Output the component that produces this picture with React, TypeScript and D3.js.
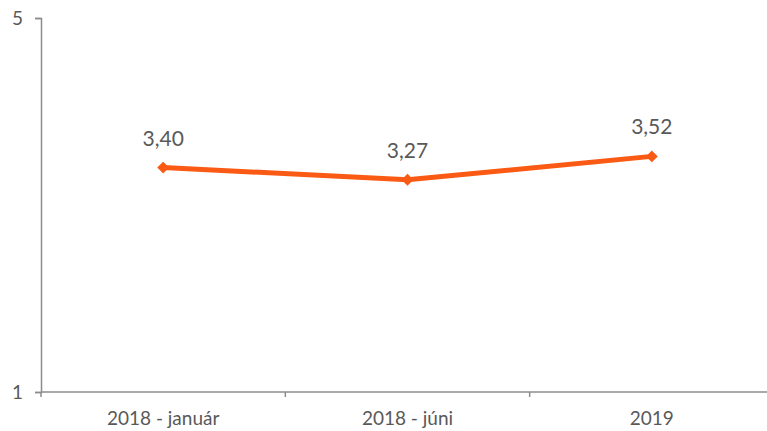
import { useEffect, useRef } from 'react';
import * as d3 from 'd3';

const categories = ['2018 - január', '2018 - júni', '2019'];
const values = [3.4, 3.27, 3.52];
const yTicks = [1, 5];

const W = 767;
const H = 431;

const App = () => {
  const ref = useRef<SVGSVGElement>(null);

  useEffect(() => {
    const svg = d3.select(ref.current);
    svg.selectAll('*').remove();

    const x = d3.scaleBand().domain(categories).range([41, 774]);
    const y = d3.scaleLinear().domain([1, 5]).range([392, 18]);
    const font = 'Lato, "Open Sans", sans-serif';
    const axisColor = '#8c8c8c';
    const textColor = '#595959';

    // y axis
    const gy = svg.append('g').attr('transform', 'translate(41,0)')
      .call(d3.axisLeft(y).tickValues(yTicks).tickSize(6).tickPadding(12).tickFormat(d3.format('d')));
    gy.select('.domain').attr('stroke', axisColor).attr('stroke-width', 1.5);
    gy.selectAll('line').attr('stroke', axisColor).attr('stroke-width', 1.5);
    gy.selectAll('text').attr('fill', textColor).style('font-family', font).style('font-size', '19px');

    // x axis
    const gx = svg.append('g').attr('transform', 'translate(0,392)');
    gx.append('line').attr('x1', 41).attr('x2', W).attr('stroke', axisColor).attr('stroke-width', 1.5);
    const bounds = categories.map((c) => x(c) as number);
    gx.selectAll('line.tick').data(bounds).enter().append('line')
      .attr('class', 'tick')
      .attr('x1', (d) => d).attr('x2', (d) => d)
      .attr('y1', 0).attr('y2', 5)
      .attr('stroke', axisColor).attr('stroke-width', 1.5);
    gx.selectAll('text').data(categories).enter().append('text')
      .attr('x', (d) => (x(d) as number) + x.bandwidth() / 2)
      .attr('y', 33)
      .attr('text-anchor', 'middle')
      .attr('fill', textColor)
      .style('font-family', font)
      .style('font-size', '19px')
      .text((d) => d);

    const pts = categories.map((c, i) => [(x(c) as number) + x.bandwidth() / 2, y(values[i])] as [number, number]);
    const line = d3.line();
    svg.append('path').attr('d', line(pts)).attr('fill', 'none')
      .attr('stroke', '#fa5a14').attr('stroke-width', 5);

    svg.selectAll('path.mk').data(pts).enter().append('path')
      .attr('class', 'mk')
      .attr('d', d3.symbol(d3.symbolDiamond2, 90)())
      .attr('transform', (d) => `translate(${d[0]},${d[1]})`)
      .attr('fill', '#fa5a14');

    svg.selectAll('text.lbl').data(pts).enter().append('text')
      .attr('class', 'lbl')
      .attr('x', (d) => d[0])
      .attr('y', (d) => d[1] - 22)
      .attr('text-anchor', 'middle')
      .attr('fill', textColor)
      .style('font-family', font)
      .style('font-size', '21px')
      .text((d, i) => values[i].toFixed(2).replace('.', ','));
  }, []);

  return (
    <svg ref={ref} width={W} height={H} style={{ position: 'absolute', left: 0, top: 0, background: '#fff' }} />
  );
};

export default App;
